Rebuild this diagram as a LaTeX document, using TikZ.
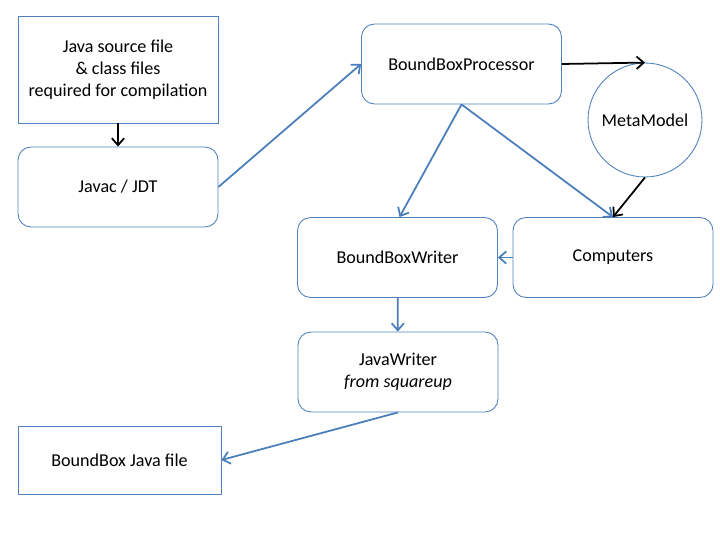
\documentclass[tikz,border=0pt]{standalone}
\usepackage{fontspec}
\setmainfont{Carlito}
\usetikzlibrary{arrows.meta}
\definecolor{boxblue}{HTML}{4F81BD}
\definecolor{linkblue}{HTML}{4A7EBB}

\begin{document}
\begin{tikzpicture}[x=0.02cm, y=-0.02cm,
	box/.style={draw=boxblue, line width=0.5pt, minimum width=4cm, minimum height=1.6cm, align=center, font=\fontsize{10.3}{12.4}\selectfont},
	rbox/.style={box, rounded corners=0.26cm},
	link/.style={draw=linkblue, line width=1pt, -{Straight Barb[length=4pt,width=7pt]}},
	blink/.style={draw=black, line width=1pt, -{Straight Barb[length=4pt,width=7pt]}}]
	\useasboundingbox (0,0) rectangle (720,540);
	% boxes
	\node[box, minimum height=2.14cm] (src) at (118,69.5) {Java source file\\\& class files\\required for compilation};
	\node[rbox] (javac) at (118,187) {Javac / JDT};
	\node[rbox] (proc) at (461.5,64) {BoundBoxProcessor};
	\node[draw=boxblue, line width=0.5pt, circle, minimum size=2.28cm, font=\fontsize{10.3}{12.4}\selectfont] (meta) at (645,120) {MetaModel};
	\node[rbox] (writer) at (397.5,257.5) {BoundBoxWriter};
	\node[rbox] (comp) at (613,257.5) {Computers};
	\node[rbox] (jw) at (398,372) {JavaWriter\\\textit{from squareup}};
	\node[box, minimum width=4.06cm, minimum height=1.36cm] (out) at (119.5,460) {BoundBox Java file};
	% connectors
	\draw[blink] (src) -- (javac);
	\draw[link] (javac.east) -- (proc.west);
	\draw[blink] (proc.east) -- (meta.north);
	\draw[blink] (meta.south) -- (comp.north);
	\draw[link] (proc.south) -- ([xshift=0.04cm]writer.north);
	\draw[link] (proc.south) -- (comp.north);
	\draw[link] (comp) -- (writer);
	\draw[link] (writer) -- (jw);
	\draw[link] (jw.south) -- (out.east);
\end{tikzpicture}
\end{document}
